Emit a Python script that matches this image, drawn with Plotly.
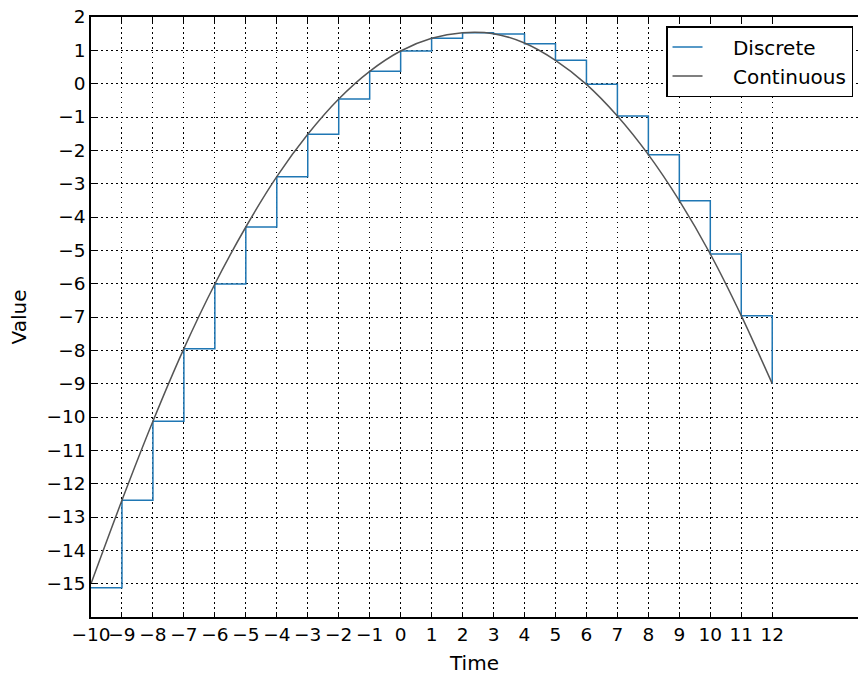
import plotly.graph_objects as go

time = list(range(-10, 13))
discrete = [-15.12, -12.5, -10.13, -7.95, -6.01, -4.30, -2.79, -1.52, -0.46, 0.37, 0.98,
            1.36, 1.53, 1.49, 1.20, 0.70, -0.02, -0.97, -2.13, -3.51, -5.11, -6.96, -9.0]
continuous = [-15.0, -12.5, -10.13, -7.95, -6.01, -4.30, -2.79, -1.52, -0.46, 0.37, 0.98,
              1.36, 1.53, 1.50, 1.22, 0.70, -0.02, -0.97, -2.13, -3.51, -5.11, -6.96, -9.0]
series_names = ["Discrete", "Continuous"]
xticks = list(range(-10, 13))
yticks = list(range(-15, 3))

def lab(v):
    return ("\u2212" + str(-v)) if v < 0 else str(v)

pad = "\u00a0" * 4
fig = go.Figure()
fig.add_trace(go.Scatter(x=time, y=discrete, mode="lines", name=pad + series_names[0],
                         line=dict(color="#1f77b4", width=1.5, shape="hv")))
fig.add_trace(go.Scatter(x=time, y=continuous, mode="lines", name=pad + series_names[1],
                         line=dict(color="#555555", width=1.5, shape="spline", smoothing=0.8)))

font = "DejaVu Sans"
grid_dash = "1.5px,3.5px"
fig.update_layout(
    width=858, height=675,
    margin=dict(l=91, r=0, t=17, b=58),
    plot_bgcolor="white", paper_bgcolor="white",
    font=dict(family=font, size=18, color="black"),
    showlegend=True,
    legend=dict(x=0.9935, y=0.985, xanchor="right", yanchor="top",
                bgcolor="white", bordercolor="black", borderwidth=1.5,
                font=dict(size=20, family=font), tracegroupgap=4),
    xaxis=dict(range=[-10, 14.77], tickvals=xticks, ticktext=[lab(v) for v in xticks],
               tickangle=0, automargin=False,
               showgrid=True, gridcolor="black", griddash=grid_dash, gridwidth=1,
               zeroline=False, showline=True, linecolor="black", linewidth=1.5,
               mirror="ticks", ticks="inside", ticklen=5, tickcolor="black",
               title=dict(text="Time", font=dict(size=20)), tickfont=dict(size=18.5)),
    yaxis=dict(range=[-16, 2], tickvals=yticks, ticktext=[lab(v) for v in yticks],
               automargin=False,
               showgrid=True, gridcolor="black", griddash=grid_dash, gridwidth=1,
               zeroline=False, showline=True, linecolor="black", linewidth=1.5,
               mirror=False, ticks="inside", ticklen=5, tickcolor="black",
               title=dict(text="Value", font=dict(size=20)), tickfont=dict(size=18.5)),
)

fig.write_html("out.html")
